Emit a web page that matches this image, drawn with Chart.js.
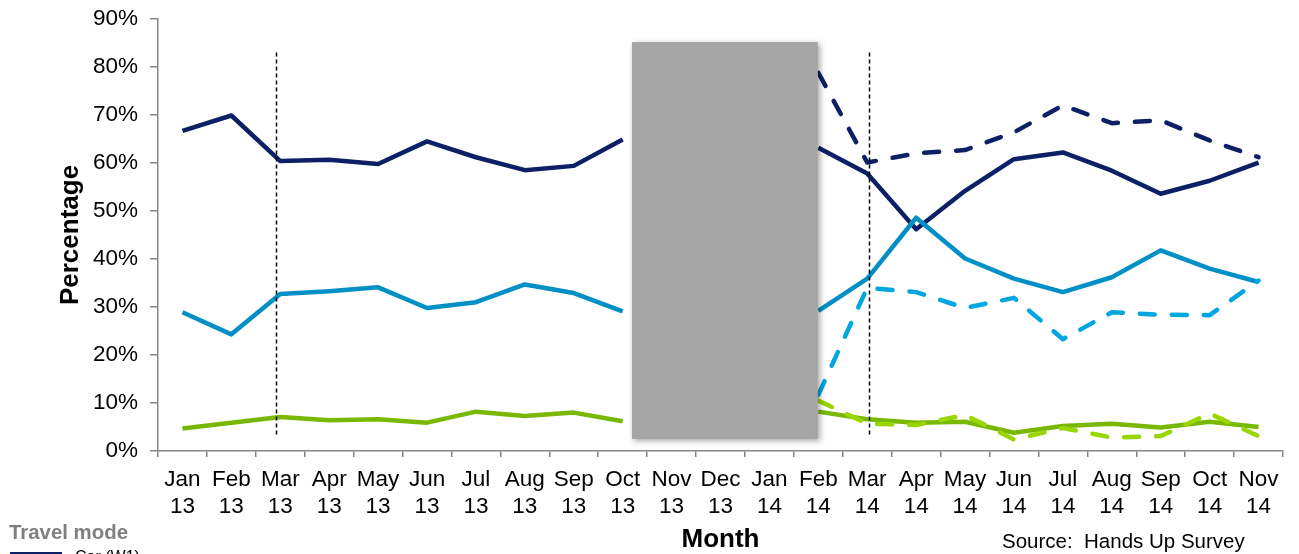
<!DOCTYPE html>
<html>
<head>
<meta charset="utf-8">
<script src="https://cdn.jsdelivr.net/npm/chart.js@4.4.1/dist/chart.umd.min.js"></script>
<style>
  html, body { margin: 0; padding: 0; background: #fff; overflow: hidden; }
  #wrap { position: relative; width: 1299px; height: 554px; overflow: hidden; }
  .note { position: absolute; font-family: "Liberation Sans", Arial, sans-serif; white-space: pre; }
</style>
</head>
<body>
<div id="wrap">
  <canvas id="chart"></canvas>
  <div class="note" style="left:9px; top:520px; font-size:20.4px; line-height:24px; font-weight:bold; color:#7f7f7f;">Travel mode</div>
  <div class="note" style="left:10px; top:552px; width:52px; height:4px; background:#0c2165;"></div>
  <div class="note" style="left:75px; top:548px; font-size:16px; line-height:18px; color:#000;">Car (W1)</div>
  <div class="note" style="left:1002px; top:529px; font-size:20.5px; line-height:24px; color:#000;">Source:  Hands Up Survey</div>
</div>
<script>
// tick labels (two lines each)
const months = ["Jan", "Feb", "Mar", "Apr", "May", "Jun", "Jul", "Aug", "Sep", "Oct", "Nov", "Dec",
                "Jan", "Feb", "Mar", "Apr", "May", "Jun", "Jul", "Aug", "Sep", "Oct", "Nov"];
const years = ["13", "13", "13", "13", "13", "13", "13", "13", "13", "13", "13", "13",
               "14", "14", "14", "14", "14", "14", "14", "14", "14", "14", "14"];
const yTicks = [0, 10, 20, 30, 40, 50, 60, 70, 80, 90];

// solid series (Nov 13 - Jan 14 are hidden behind the grey box)
const carSolid = [66.7, 69.9, 60.4, 60.7, 59.8, 64.5, 61.2, 58.5, 59.4, 64.9, null, null, null,
                  63.2, 57.8, 46.2, 54.2, 60.8, 62.2, 58.4, 53.6, 56.3, 60.1];
const blueSolid = [28.9, 24.3, 32.7, 33.3, 34.1, 29.8, 31.0, 34.7, 32.9, 29.1, null, null, null,
                   29.2, 35.9, 48.6, 40.1, 35.9, 33.1, 36.2, 41.8, 38.0, 35.2];
const greenSolid = [4.7, 5.9, 7.1, 6.4, 6.6, 5.9, 8.2, 7.3, 8.0, 6.2, null, null, null,
                    8.2, 6.6, 5.9, 6.1, 3.8, 5.2, 5.7, 4.9, 6.1, 5.0];

// dashed series
const carDashed = [null, null, null, null, null, null, null, null, null, null, null, null, null,
                   78.8, 60.1, 62.0, 62.7, 66.4, 72.0, 68.3, 68.9, 64.7, 61.2];
const blueDashed = [null, null, null, null, null, null, null, null, null, null, null, null, null,
                    11.7, 34.0, 33.1, 29.8, 31.9, 23.3, 28.9, 28.4, 28.3, 35.5];
const greenDashed = [null, null, null, null, null, null, null, null, null, null, null, null, null,
                     10.5, 5.7, 5.4, 7.5, 2.4, 4.8, 2.8, 3.1, 7.8, 3.1];

// vertical markers (category index) and grey box (index / percent)
const markerIdx = [1.91, 14.04];
const markerRange = [3, 83];
const boxIdx = [9.19, 12.99];
const boxRange = [2.5, 85.2];

const labels = months.map((m, i) => [m, years[i]]);
const tickFont = { family: "'Liberation Sans', Arial, sans-serif", size: 22.5, lineHeight: 1.2 };
const titleFont = { family: "'Liberation Sans', Arial, sans-serif", size: 26, weight: "bold", lineHeight: 1.1 };
const axisGrey = "#868686";

function line(data, color, dashed) {
  return {
    data: data,
    borderColor: color,
    borderWidth: 4.5,
    borderDash: dashed ? [15, 17] : [],
    borderCapStyle: dashed ? "round" : "butt",
    borderJoinStyle: "round",
    pointRadius: 0,
    tension: 0,
    spanGaps: false,
    fill: false,
  };
}

const overlay = {
  id: "overlay",
  afterDatasetsDraw(chart) {
    const { ctx, scales: { x, y } } = chart;
    ctx.save();
    // dashed verticals
    ctx.strokeStyle = "#000";
    ctx.lineWidth = 1.5;
    ctx.setLineDash([4, 3]);
    markerIdx.forEach((i) => {
      const px = Math.round(x.getPixelForValue(i)) + 0.5;
      ctx.beginPath();
      ctx.moveTo(px, y.getPixelForValue(markerRange[1]));
      ctx.lineTo(px, y.getPixelForValue(markerRange[0]));
      ctx.stroke();
    });
    ctx.setLineDash([]);
    // grey box with a soft shadow
    const x1 = x.getPixelForValue(boxIdx[0]);
    const x2 = x.getPixelForValue(boxIdx[1]);
    const y1 = y.getPixelForValue(boxRange[1]);
    const y2 = y.getPixelForValue(boxRange[0]);
    ctx.shadowColor = "rgba(0,0,0,0.35)";
    ctx.shadowBlur = 6;
    ctx.shadowOffsetX = 2;
    ctx.shadowOffsetY = 2;
    ctx.fillStyle = "#a6a6a6";
    ctx.fillRect(x1, y1, x2 - x1, y2 - y1);
    ctx.restore();
  },
};

new Chart(document.getElementById("chart"), {
  type: "line",
  data: {
    labels: labels,
    datasets: [
      line(greenDashed, "#99d600", true),
      line(blueDashed, "#00a6e0", true),
      line(carDashed, "#0c2165", true),
      line(blueSolid, "#0090c6", false),
      line(carSolid, "#0c2165", false),
      line(greenSolid, "#79b800", false),
    ],
  },
  options: {
    responsive: true,
    maintainAspectRatio: false,
    animation: false,
    layout: { padding: { left: 0, right: 16, top: 19, bottom: 0 } },
    plugins: { legend: { display: false }, tooltip: { enabled: false } },
    scales: {
      x: {
        offset: true,
        grid: { display: true, drawOnChartArea: false, offset: true, tickLength: 6, color: axisGrey, lineWidth: 1.5 },
        border: { display: true, color: axisGrey, width: 1.5 },
        ticks: { font: tickFont, color: "#000", padding: 9, maxRotation: 0, autoSkip: false },
        title: { display: true, text: "Month", font: titleFont, color: "#000", padding: { top: 0, bottom: 0 } },
        afterFit: (s) => { s.height = 103; s.paddingLeft = 0; s.paddingRight = 0; },
      },
      y: {
        min: yTicks[0],
        max: yTicks[yTicks.length - 1],
        afterBuildTicks: (s) => { s.ticks = yTicks.map((v) => ({ value: v })); },
        grid: { display: true, drawOnChartArea: false, tickLength: 8, color: axisGrey, lineWidth: 1.5 },
        border: { display: true, color: axisGrey, width: 1.5 },
        ticks: { font: tickFont, color: "#000", padding: 12, callback: (v) => v + "%" },
        title: { display: true, text: "Percentage", font: titleFont, color: "#000", padding: { top: 57, bottom: 0 } },
        afterFit: (s) => { s.width = 158; s.paddingTop = 0; s.paddingBottom = 0; },
      },
    },
  },
  plugins: [overlay],
});
</script>
</body>
</html>
